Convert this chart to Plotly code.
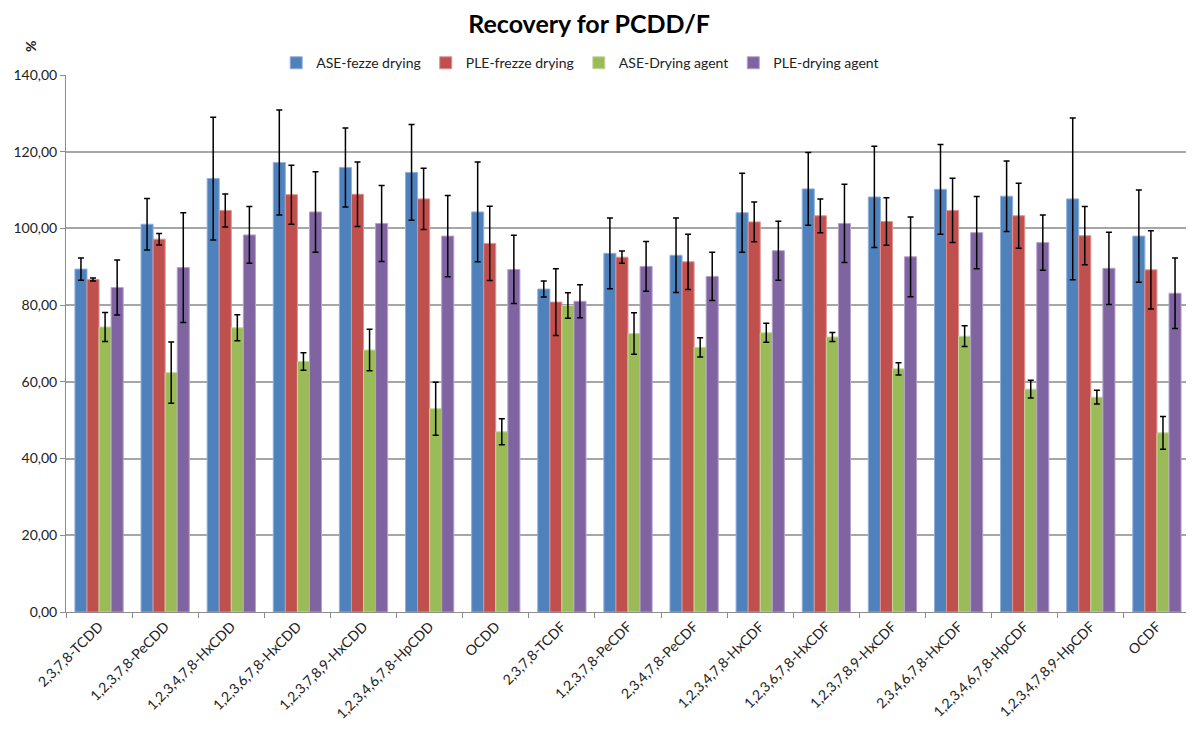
import plotly.graph_objects as go

categories = ["2,3,7,8-TCDD", "1,2,3,7,8-PeCDD", "1,2,3,4,7,8-HxCDD", "1,2,3,6,7,8-HxCDD",
              "1,2,3,7,8,9-HxCDD", "1,2,3,4,6,7,8-HpCDD", "OCDD", "2,3,7,8-TCDF",
              "1,2,3,7,8-PeCDF", "2,3,4,7,8-PeCDF", "1,2,3,4,7,8-HxCDF", "1,2,3,6,7,8-HxCDF",
              "1,2,3,7,8,9-HxCDF", "2,3,4,6,7,8-HxCDF", "1,2,3,4,6,7,8-HpCDF",
              "1,2,3,4,7,8,9-HpCDF", "OCDF"]

ase_freeze = [89.4, 101.1, 113.0, 117.2, 115.9, 114.6, 104.3, 84.2, 93.5, 93.0, 104.1, 110.3, 108.2, 110.2, 108.4, 107.7, 98.0]
ase_freeze_err = [2.9, 6.7, 16.0, 13.7, 10.3, 12.5, 13.0, 2.1, 9.2, 9.7, 10.3, 9.5, 13.2, 11.7, 9.2, 21.1, 12.0]

ple_freeze = [86.7, 97.2, 104.7, 108.8, 108.9, 107.7, 96.1, 80.8, 92.5, 91.3, 101.7, 103.3, 101.8, 104.7, 103.3, 98.1, 89.2]
ple_freeze_err = [0.4, 1.5, 4.3, 7.7, 8.4, 8.0, 9.7, 8.7, 1.6, 7.2, 5.2, 4.4, 6.2, 8.4, 8.5, 7.6, 10.2]

ase_agent = [74.3, 62.4, 74.1, 65.3, 68.3, 53.0, 47.0, 79.9, 72.6, 69.0, 72.8, 71.7, 63.4, 71.9, 58.1, 56.0, 46.7]
ase_agent_err = [3.8, 8.0, 3.4, 2.3, 5.4, 6.9, 3.4, 3.3, 5.4, 2.5, 2.5, 1.2, 1.6, 2.7, 2.3, 1.8, 4.3]

ple_agent = [84.6, 89.8, 98.3, 104.3, 101.3, 98.0, 89.3, 81.0, 90.1, 87.5, 94.2, 101.3, 92.6, 98.9, 96.3, 89.6, 83.1]
ple_agent_err = [7.2, 14.3, 7.4, 10.5, 9.9, 10.6, 8.9, 4.3, 6.5, 6.3, 7.7, 10.2, 10.4, 9.4, 7.2, 9.4, 9.2]

series = [
    ("ASE-fezze drying", ase_freeze, ase_freeze_err, "#4F81BD", "#8FB0DA"),
    ("PLE-frezze drying", ple_freeze, ple_freeze_err, "#C0504D", "#DE9290"),
    ("ASE-Drying agent", ase_agent, ase_agent_err, "#9BBB59", "#C3D99A"),
    ("PLE-drying agent", ple_agent, ple_agent_err, "#8064A2", "#B3A2C9"),
]

FONT = "Lato, 'Open Sans', sans-serif"

fig = go.Figure()
for name, vals, errs, col, edge in series:
    fig.add_trace(go.Bar(
        name=name, x=categories, y=vals,
        marker=dict(color=col, line=dict(color=edge, width=1)),
        error_y=dict(type="data", array=errs, visible=True, color="black", thickness=1.5, width=3),
    ))

fig.update_layout(
    barmode="group",
    bargap=0.27,
    bargroupgap=0,
    width=1186, height=723,
    paper_bgcolor="white", plot_bgcolor="white",
    margin=dict(l=58, r=4, t=67, b=119, autoexpand=False),
    separators=", ",
    font=dict(family=FONT, size=14, color="#222"),
    title=dict(text="<b>Recovery for PCDD/F</b>", x=0.49, xanchor="center", y=0.977, yanchor="middle",
               font=dict(family=FONT, size=25, color="black")),
    legend=dict(orientation="h", x=0.187, xanchor="left", y=1.022, yanchor="middle",
                font=dict(family=FONT, size=14, color="#222"),
                itemwidth=30, traceorder="normal", bgcolor="rgba(0,0,0,0)"),
    showlegend=True,
)

fig.update_yaxes(range=[0, 140], dtick=20, tickformat=".2f", automargin=False,
                 showgrid=True, gridcolor="#A6A6A6", gridwidth=1.5,
                 showline=True, linecolor="#8C8C8C", linewidth=1,
                 ticks="outside", ticklen=5, tickcolor="#8C8C8C",
                 tickfont=dict(family=FONT, size=14, color="#222"), zeroline=False)
fig.update_xaxes(tickangle=-45, showline=True, linecolor="#8C8C8C", linewidth=1, automargin=False,
                 ticks="outside", tickson="boundaries", ticklen=5, tickcolor="#8C8C8C", showgrid=False,
                 tickfont=dict(family=FONT, size=14, color="#222"))

fig.add_annotation(text="<b>%</b>", xref="paper", yref="paper", x=-0.032, y=1.052,
                   xanchor="center", yanchor="middle",
                   showarrow=False, textangle=-90, font=dict(family=FONT, size=14, color="#222"))

fig.write_html("out.html")
